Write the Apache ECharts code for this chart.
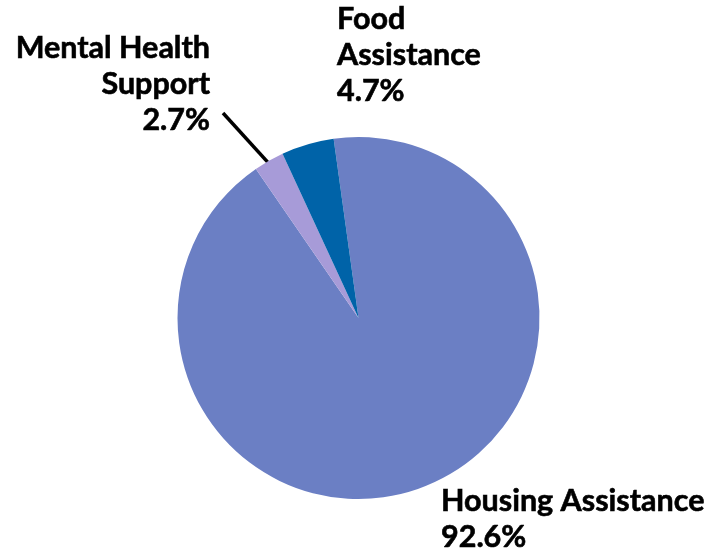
<!DOCTYPE html>
<html>
<head>
<meta charset="utf-8">
<script src="https://cdn.jsdelivr.net/npm/echarts@6/dist/echarts.min.js"></script>
<style>
html,body{margin:0;padding:0;background:#fff;}
#chart{width:713px;height:550px;}
</style>
</head>
<body>
<div id="chart"></div>
<script>
const categories = ['Housing Assistance', 'Mental Health Support', 'Food Assistance'];
const labelTexts = ['Housing Assistance', 'Mental Health\nSupport', 'Food\nAssistance'];
const values = [92.6, 2.7, 4.7];
const colors = ['#6b7fc4', '#a79bd8', '#0063a8'];

const labelPlacement = [
  { x: 441, y: 483, align: 'left' },
  { x: 210, y: 30, align: 'right' },
  { x: 337, y: 1, align: 'left' }
];

const chart = echarts.init(document.getElementById('chart'));
chart.setOption({
  animation: false,
  series: [{
    type: 'pie',
    center: [358.5, 318],
    radius: 181,
    startAngle: 97.9,
    clockwise: true,
    data: categories.map((c, i) => ({
      name: c,
      value: values[i],
      itemStyle: { color: colors[i] },
      labelLine: { show: i === 1, lineStyle: { color: '#000', width: 3.5 } },
      label: {
        formatter: labelTexts[i] + '\n' + values[i].toFixed(1) + '%',
        align: labelPlacement[i].align
      }
    })),
    label: {
      show: true,
      position: 'outside',
      fontFamily: 'Lato',
      fontWeight: 'bold',
      fontSize: 30.5,
      lineHeight: 36,
      color: '#000',
      textBorderColor: '#000',
      textBorderWidth: 0.6,
      overflow: 'none'
    },
    labelLine: { length: 20, length2: 10 },
    labelLayout: function (p) {
      const lp = labelPlacement[p.dataIndex];
      const out = { x: lp.x, y: lp.y, align: lp.align, verticalAlign: 'top' };
      if (p.dataIndex === 1 && p.labelLinePoints) {
        const s = p.labelLinePoints[0];
        const cx = 358.5, cy = 318;
        const k = 0.955;
        out.labelLinePoints = [
          [cx + (s[0] - cx) * k, cy + (s[1] - cy) * k],
          [223, 113]
        ];
      }
      return out;
    }
  }]
});
</script>
</body>
</html>
